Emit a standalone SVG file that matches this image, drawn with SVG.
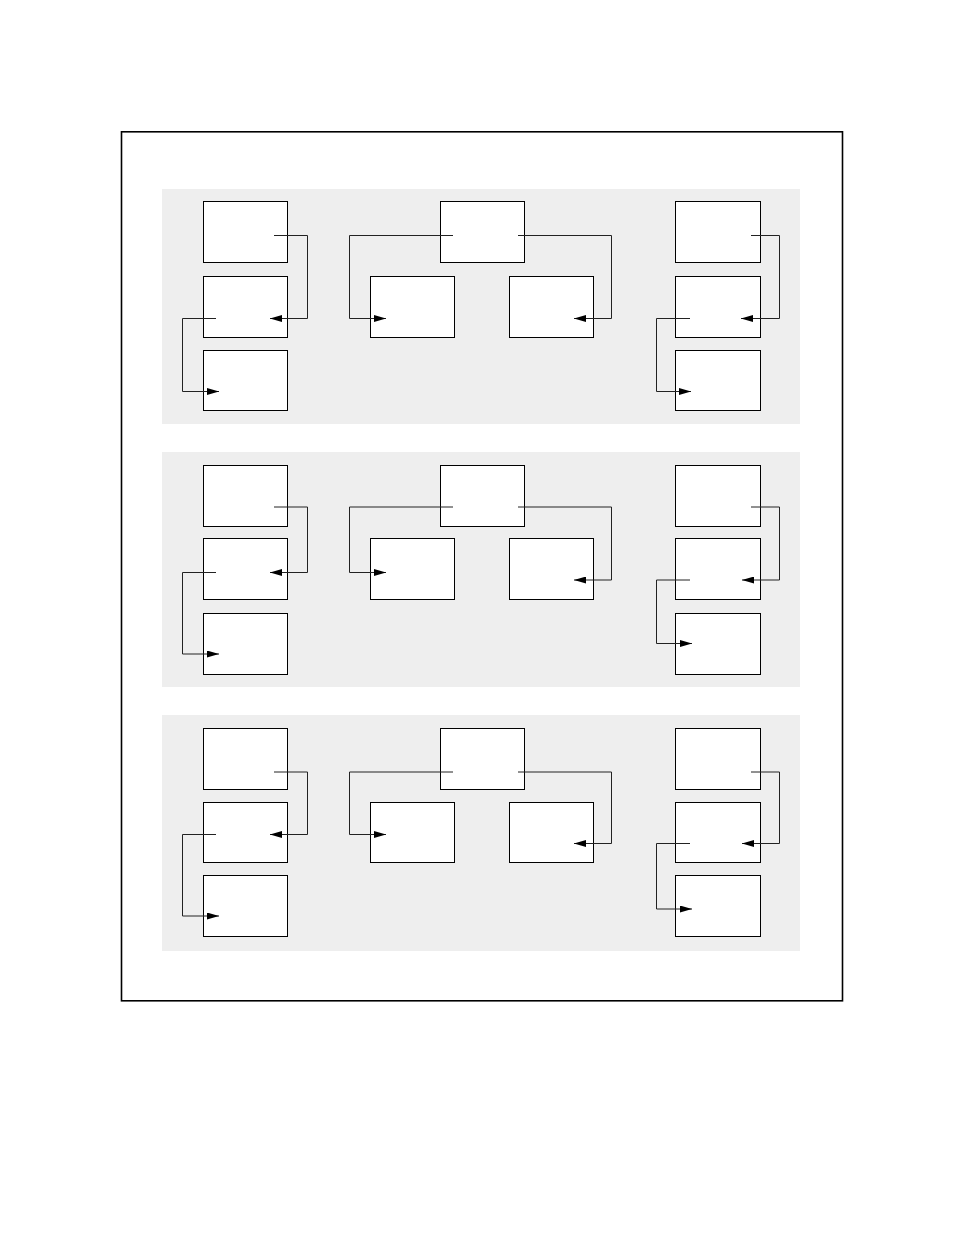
<svg xmlns="http://www.w3.org/2000/svg" width="954" height="1235" viewBox="0 0 954 1235">
<style>
.frame{fill:#fff;stroke:#000;stroke-width:1.6}
.panel{fill:#eee;stroke:none}
.box{fill:#fff;stroke:#000;stroke-width:1}
.c{fill:none;stroke:#222;stroke-width:1}
.cl{fill:none;stroke:#000;stroke-width:1.4;stroke-opacity:0.45}
</style>
<defs>
<marker id="ah" markerUnits="userSpaceOnUse" markerWidth="13" markerHeight="7" refX="12" refY="3.5" orient="auto">
<path d="M0,0 L12,3.5 L0,7 z" fill="#000"/>
</marker>
</defs>
<rect width="954" height="1235" fill="#fff"/>
<rect class="frame" x="121.5" y="131.8" width="721" height="869"/>

<g id="panel1">
<rect class="panel" x="162" y="189" width="638" height="235"/>
<g id="p1-l1"><rect class="box" x="203.5" y="201.5" width="84" height="61"/></g>
<g id="p1-l2"><rect class="box" x="203.5" y="276.5" width="84" height="61"/></g>
<g id="p1-l3"><rect class="box" x="203.5" y="350.5" width="84" height="60"/></g>
<g id="p1-c1"><rect class="box" x="440.5" y="201.5" width="84" height="61"/></g>
<g id="p1-c2"><rect class="box" x="370.5" y="276.5" width="84" height="61"/></g>
<g id="p1-c3"><rect class="box" x="509.5" y="276.5" width="84" height="61"/></g>
<g id="p1-r1"><rect class="box" x="675.5" y="201.5" width="85" height="61"/></g>
<g id="p1-r2"><rect class="box" x="675.5" y="276.5" width="85" height="61"/></g>
<g id="p1-r3"><rect class="box" x="675.5" y="350.5" width="85" height="60"/></g>
</g>

<g id="panel2">
<rect class="panel" x="162" y="452" width="638" height="235"/>
<g id="p2-l1"><rect class="box" x="203.5" y="465.5" width="84" height="61"/></g>
<g id="p2-l2"><rect class="box" x="203.5" y="538.5" width="84" height="61"/></g>
<g id="p2-l3"><rect class="box" x="203.5" y="613.5" width="84" height="61"/></g>
<g id="p2-c1"><rect class="box" x="440.5" y="465.5" width="84" height="61"/></g>
<g id="p2-c2"><rect class="box" x="370.5" y="538.5" width="84" height="61"/></g>
<g id="p2-c3"><rect class="box" x="509.5" y="538.5" width="84" height="61"/></g>
<g id="p2-r1"><rect class="box" x="675.5" y="465.5" width="85" height="61"/></g>
<g id="p2-r2"><rect class="box" x="675.5" y="538.5" width="85" height="61"/></g>
<g id="p2-r3"><rect class="box" x="675.5" y="613.5" width="85" height="61"/></g>
</g>

<g id="panel3">
<rect class="panel" x="162" y="715" width="638" height="236"/>
<g id="p3-l1"><rect class="box" x="203.5" y="728.5" width="84" height="61"/></g>
<g id="p3-l2"><rect class="box" x="203.5" y="802.5" width="84" height="60"/></g>
<g id="p3-l3"><rect class="box" x="203.5" y="875.5" width="84" height="61"/></g>
<g id="p3-c1"><rect class="box" x="440.5" y="728.5" width="84" height="61"/></g>
<g id="p3-c2"><rect class="box" x="370.5" y="802.5" width="84" height="60"/></g>
<g id="p3-c3"><rect class="box" x="509.5" y="802.5" width="84" height="60"/></g>
<g id="p3-r1"><rect class="box" x="675.5" y="728.5" width="85" height="61"/></g>
<g id="p3-r2"><rect class="box" x="675.5" y="802.5" width="85" height="60"/></g>
<g id="p3-r3"><rect class="box" x="675.5" y="875.5" width="85" height="61"/></g>
</g>

<g id="connectors">
<!-- panel 1 -->
<path class="c" d="M274,235.5 H307.5 V318.5 H270" marker-end="url(#ah)"/>
<path class="c" d="M216,318.5 H182.5 V391.5 H219" marker-end="url(#ah)"/>
<path class="c" d="M453,235.5 H349.5 V318.5 H386" marker-end="url(#ah)"/>
<path class="c" d="M518,235.5 H611.5 V318.5 H574" marker-end="url(#ah)"/>
<path class="c" d="M751,235.5 H779.5 V318.5 H741" marker-end="url(#ah)"/>
<path class="c" d="M690,318.5 H656.5 V391.5 H691" marker-end="url(#ah)"/>
<!-- panel 2 -->
<path class="c" d="M274,507 H307.5 V572.5 H270" marker-end="url(#ah)"/>
<path class="c" d="M216,572.5 H182.5 V654 H219" marker-end="url(#ah)"/>
<path class="c" d="M453,507 H349.5 V572.5 H386" marker-end="url(#ah)"/>
<path class="c" d="M518,507 H611.5 V580 H574" marker-end="url(#ah)"/>
<path class="c" d="M751,507 H779.5 V580 H742" marker-end="url(#ah)"/>
<path class="c" d="M690,580 H656.5 V643.5 H692" marker-end="url(#ah)"/>
<!-- panel 3 -->
<path class="c" d="M274,772 H307.5 V834.5 H270" marker-end="url(#ah)"/>
<path class="c" d="M216,834.5 H182.5 V916 H219" marker-end="url(#ah)"/>
<path class="c" d="M453,772 H349.5 V834.5 H386" marker-end="url(#ah)"/>
<path class="c" d="M518,772 H611.5 V843.5 H574" marker-end="url(#ah)"/>
<path class="c" d="M751,772 H779.5 V843.5 H742" marker-end="url(#ah)"/>
<path class="c" d="M690,843.5 H656.5 V909 H692" marker-end="url(#ah)"/>
</g>
</svg>
